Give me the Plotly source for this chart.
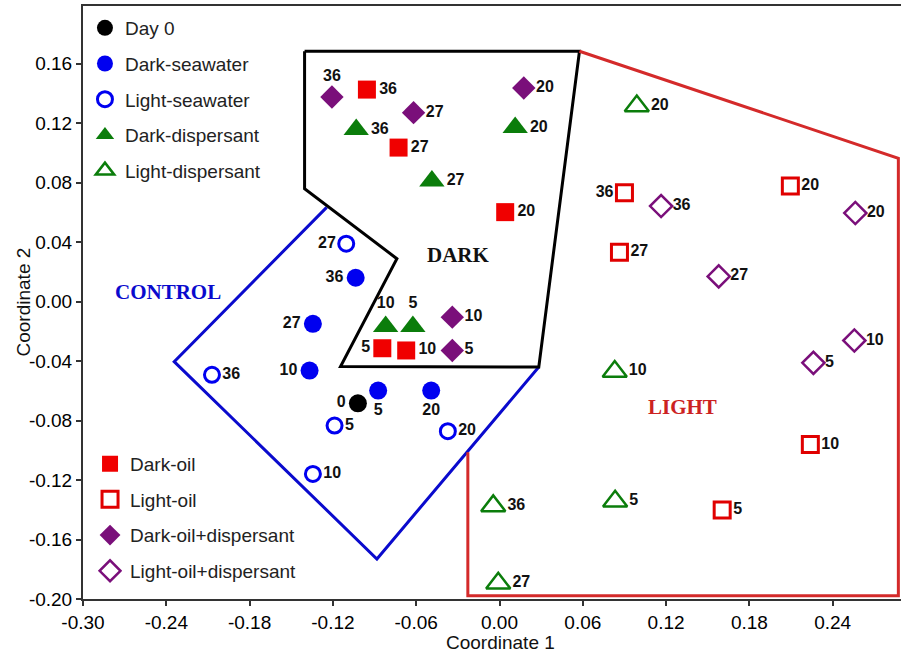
import plotly.graph_objects as go

# ---------------- data ----------------
days = [5, 10, 20, 27, 36]

day0_x = [-0.102]
day0_y = [-0.0684]

dark_sw_x = [-0.0874, -0.1368, -0.0492, -0.1344, -0.1036]
dark_sw_y = [-0.0599, -0.0464, -0.0599, -0.0150, 0.0160]

light_sw_x = [-0.1188, -0.1344, -0.0372, -0.1104, -0.2071]
light_sw_y = [-0.0834, -0.1159, -0.0872, 0.0389, -0.0493]

dark_disp_x = [-0.0624, -0.0820, 0.0113, -0.0487, -0.1032]
dark_disp_y = [-0.0168, -0.0168, 0.1170, 0.0811, 0.1156]

light_disp_x = [0.0833, 0.0830, 0.0989, -0.0009, -0.0045]
light_disp_y = [-0.1343, -0.0470, 0.1315, -0.1894, -0.1374]

dark_oil_x = [-0.0844, -0.0672, 0.0041, -0.0727, -0.0955]
dark_oil_y = [-0.0314, -0.0329, 0.0601, 0.1035, 0.1425]

light_oil_x = [0.1604, 0.2239, 0.2095, 0.0864, 0.0900]
light_oil_y = [-0.1401, -0.0962, 0.0776, 0.0332, 0.0732]

dark_oild_x = [-0.0340, -0.0340, 0.0175, -0.0619, -0.1207]
dark_oild_y = [-0.0329, -0.0105, 0.1436, 0.1270, 0.1375]

light_oild_x = [0.2261, 0.2556, 0.2563, 0.1579, 0.1164]
light_oild_y = [-0.0412, -0.0262, 0.0595, 0.0169, 0.0642]

# group boundaries (polygon vertices)
dark_poly_x = [-0.1404, 0.0576, 0.0283, -0.1145, -0.0739, -0.1404, -0.1404]
dark_poly_y = [0.1683, 0.1683, -0.0440, -0.0437, 0.0288, 0.0759, 0.1683]

control_poly_x = [-0.1245, -0.2343, -0.0883, 0.0283]
control_poly_y = [0.0633, -0.0404, -0.1731, -0.0440]

light_poly_x = [0.0576, 0.2873, 0.2873, -0.0228, -0.0228]
light_poly_y = [0.1683, 0.0963, -0.1978, -0.1978, -0.1014]

region_names = ["CONTROL", "DARK", "LIGHT"]
region_x = [-0.2386, -0.0298, 0.1315]
region_y = [0.0064, 0.0313, -0.0710]

x_ticks = [-0.30, -0.24, -0.18, -0.12, -0.06, 0.00, 0.06, 0.12, 0.18, 0.24]
y_ticks = [-0.20, -0.16, -0.12, -0.08, -0.04, 0.00, 0.04, 0.08, 0.12, 0.16]

x_title = "Coordinate 1"
y_title = "Coordinate 2"

# ---------------- styles ----------------
BLUE = "#0000F0"
GREEN = "#0B7D0B"
RED = "#F00000"
PURPLE = "#7A0F7A"
FONT = "Liberation Sans, Arial, sans-serif"
R, L, T, BC = "middle right", "middle left", "top center", "bottom center"

fig = go.Figure()

# polygons
for px, py, col in [(control_poly_x, control_poly_y, "#0A0ACD"),
                    (dark_poly_x, dark_poly_y, "#000000"),
                    (light_poly_x, light_poly_y, "#D42A2A")]:
    fig.add_trace(go.Scatter(x=px, y=py, mode="lines", line=dict(color=col, width=3),
                             showlegend=False, hoverinfo="skip"))

lab_font = dict(family=FONT, size=16, color="#111111", weight="bold")


def add_series(name, xs, ys, labels, symbol, color, size, positions, legend, lw=0):
    marker = dict(symbol=symbol, color=color, size=size)
    if symbol.endswith("open"):
        marker["line"] = dict(color=color, width=lw)
    fig.add_trace(go.Scatter(
        x=xs, y=ys, name=name, mode="markers+text",
        text=[str(v) for v in labels], textposition=positions,
        textfont=lab_font, marker=marker, legend=legend, legendgroup=name,
    ))


add_series("Day 0", day0_x, day0_y, [0], "circle", "#000000", 18, [L], "legend")
add_series("Dark-seawater", dark_sw_x, dark_sw_y, days, "circle", BLUE, 18,
           [BC, L, BC, L, L], "legend")
add_series("Light-seawater", light_sw_x, light_sw_y, days, "circle-open", BLUE, 15,
           [R, R, R, L, R], "legend", lw=3)
add_series("Dark-dispersant", dark_disp_x, dark_disp_y, days, "triangle-up", GREEN, 22,
           [T, T, R, R, R], "legend")
add_series("Light-dispersant", light_disp_x, light_disp_y, days, "triangle-up-open", GREEN, 21,
           [R, R, R, R, R], "legend", lw=2.5)
add_series("Dark-oil", dark_oil_x, dark_oil_y, days, "square", RED, 18,
           [L, R, R, R, R], "legend2")
add_series("Light-oil", light_oil_x, light_oil_y, days, "square-open", "#E00000", 16,
           [R, R, R, R, L], "legend2", lw=3)
add_series("Dark-oil+dispersant", dark_oild_x, dark_oild_y, days, "diamond", PURPLE, 18,
           [R, R, R, R, T], "legend2")
add_series("Light-oil+dispersant", light_oild_x, light_oild_y, days, "diamond-open", PURPLE, 17,
           [R, R, R, R, R], "legend2", lw=2.5)

region_colors = ["#0A0ACD", "#111111", "#CC2222"]
for name, rx, ry, col in zip(region_names, region_x, region_y, region_colors):
    fig.add_annotation(x=rx, y=ry, text="<b>%s</b>" % name, showarrow=False,
                       font=dict(family="Liberation Serif, Times New Roman, serif", size=21, color=col))

title_font = dict(family=FONT, size=19, color="#111111")
fig.add_annotation(text=x_title, xref="paper", yref="paper", x=0.51, y=0, yshift=-43,
                   showarrow=False, font=title_font, xanchor="center", yanchor="middle")
fig.add_annotation(text=y_title, xref="paper", yref="paper", x=0, xshift=-60, y=0.5,
                   showarrow=False, font=title_font, textangle=-90, xanchor="center", yanchor="middle")

axis_common = dict(showgrid=False, zeroline=False, showline=True, linecolor="#333333",
                   linewidth=2, mirror=True, ticks="outside", ticklen=5, tickwidth=1.5,
                   tickcolor="#333333", automargin=False,
                   tickfont=dict(family=FONT, size=19, color="#000000"))

fig.update_layout(
    width=901, height=653,
    margin=dict(l=83, r=0, t=6, b=54, autoexpand=False),
    plot_bgcolor="white", paper_bgcolor="white",
    xaxis=dict(range=[-0.30, 0.2892], tickvals=x_ticks, ticktext=["%.2f" % v for v in x_ticks],
               **axis_common),
    yaxis=dict(range=[-0.20, 0.1987], tickvals=y_ticks, ticktext=["%.2f" % v for v in y_ticks],
               **axis_common),
    legend=dict(x=0.0024, y=0.995, xanchor="left", yanchor="top", bgcolor="rgba(0,0,0,0)",
                font=dict(family=FONT, size=19, color="#222222"), tracegroupgap=8,
                traceorder="grouped", itemclick=False),
    legend2=dict(x=0.0086, y=0.26, xanchor="left", yanchor="top", bgcolor="rgba(0,0,0,0)",
                 font=dict(family=FONT, size=19, color="#222222"), tracegroupgap=8,
                 traceorder="grouped", itemclick=False),
    showlegend=True,
)

fig.write_html("out.html", config={"displayModeBar": False},
               post_script="document.body.style.margin='0px';document.body.style.overflow='hidden';")
